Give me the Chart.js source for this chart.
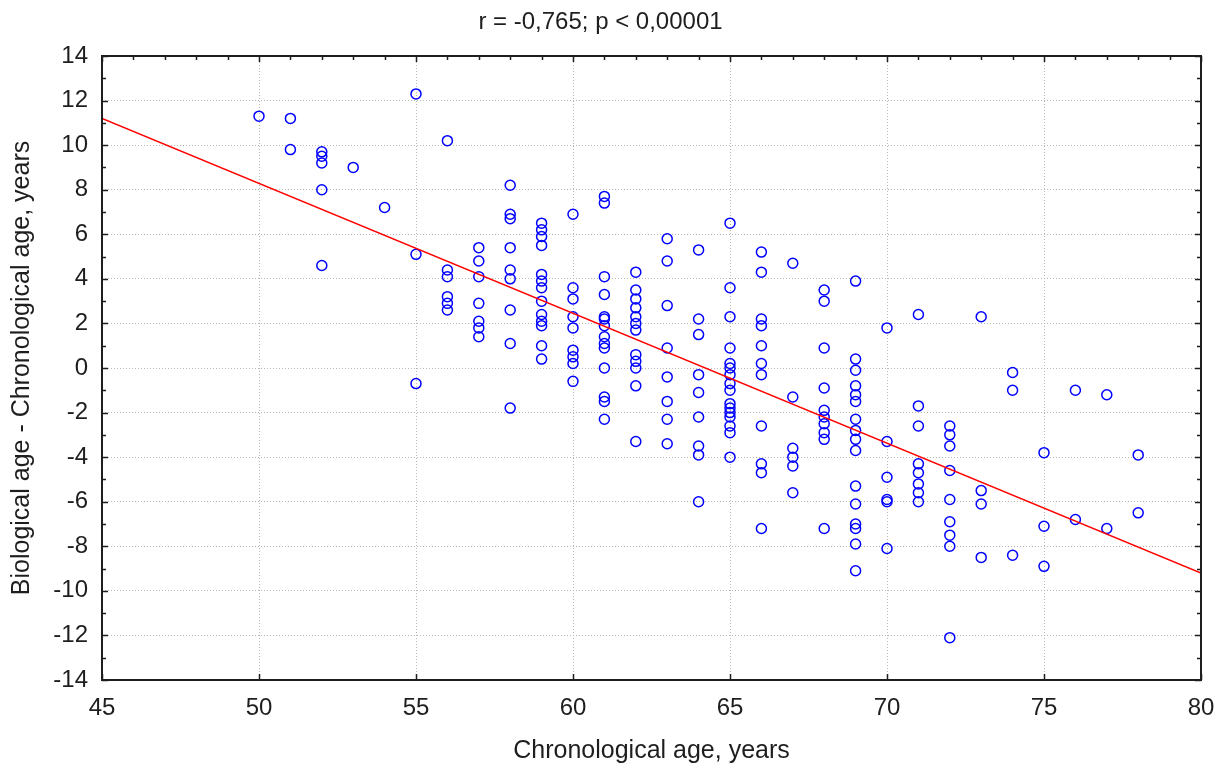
<!DOCTYPE html>
<html>
<head>
<meta charset="UTF-8">
<title>Biological age gap vs chronological age</title>
<script src="https://cdn.jsdelivr.net/npm/chart.js@4.4.1/dist/chart.umd.min.js"></script>
<style>
body {
  margin: 0;
  background: #fff;
}
#wrap {
  width: 1230px;
  height: 769px;
}
</style>
</head>
<body>
<div id="wrap"><canvas id="myChart" width="1230" height="769"></canvas></div>
<script>
// chronological ages (x columns) and the age gaps
var ages = [50, 51, 52, 53, 54, 55, 56, 57, 58, 59, 60, 61, 62, 63, 64,
            65, 66, 67, 68, 69, 70, 71, 72, 73, 74, 75, 76, 77, 78];
var gaps = [
  [11.3],
  [11.2, 9.8],
  [9.7, 9.5, 9.2, 8.0, 4.6],
  [9.0],
  [7.2],
  [12.3, 5.1, -0.7],
  [10.2, 4.4, 4.1, 3.2, 2.9, 2.6],
  [5.4, 4.8, 4.1, 2.9, 2.1, 1.8, 1.4],
  [8.2, 6.9, 6.7, 5.4, 4.4, 4.0, 2.6, 1.1, -1.8],
  [6.5, 6.2, 5.9, 5.5, 4.2, 3.9, 3.6, 3.0, 2.4, 2.1, 1.9, 1.0, 0.4],
  [6.9, 3.6, 3.1, 2.3, 1.8, 0.8, 0.5, 0.2, -0.6],
  [7.7, 7.4, 4.1, 3.3, 2.3, 2.2, 1.9, 1.4, 1.1, 0.9, 0.0, -1.3, -1.5, -2.3],
  [4.3, 3.5, 3.1, 2.7, 2.3, 2.0, 1.7, 0.6, 0.3, 0.0, -0.8, -3.3],
  [5.8, 4.8, 2.8, 0.9, -0.4, -1.5, -2.3, -3.4],
  [5.3, 2.2, 1.5, -0.3, -1.1, -2.2, -3.5, -3.9, -6.0],
  [6.5, 3.6, 2.3, 0.9, 0.2, 0.0, -0.3, -0.7, -1.0, -1.6, -1.8, -2.0, -2.2, -2.6, -2.9, -4.0],
  [5.2, 4.3, 2.2, 1.9, 1.0, 0.2, -0.3, -2.6, -4.3, -4.7, -7.2],
  [4.7, -1.3, -3.6, -4.0, -4.4, -5.6],
  [3.5, 3.0, 0.9, -0.9, -1.9, -2.2, -2.5, -2.9, -3.2, -7.2],
  [3.9, 0.4, -0.1, -0.8, -1.2, -1.5, -2.3, -2.8, -3.2, -3.7, -5.3, -6.1, -7.0, -7.2, -7.9, -9.1],
  [1.8, -3.3, -4.9, -5.9, -6.0, -8.1],
  [2.4, -1.7, -2.6, -4.3, -4.7, -5.2, -5.6, -6.0],
  [-2.6, -3.0, -3.5, -4.6, -5.9, -6.9, -7.5, -8.0, -12.1],
  [2.3, -5.5, -6.1, -8.5],
  [-0.2, -1.0, -8.4],
  [-3.8, -7.1, -8.9],
  [-1.0, -6.8],
  [-1.2, -7.2],
  [-3.9, -6.5]
];
// regression line end points
var fitX = [45, 80];
var fitY = [11.2, -9.2];

var titleText = "r = -0,765; p < 0,00001";
var xTitle = "Chronological age, years";
var yTitle = "Biological age - Chronological age, years";

var points = [];
for (var i = 0; i < ages.length; i++) {
    for (var j = 0; j < gaps[i].length; j++) {
        points.push({x: ages[i], y: gaps[i][j]});
    }
}
var fitLine = fitX.map(function(v, k) { return {x: v, y: fitY[k]}; });

var FONT = "'Liberation Sans', Arial, sans-serif";
var INK = "#1e1e1e";

// black frame plus the small inward tick marks
var framePlugin = {
    id: 'frame',
    afterDraw: function(chart) {
        var ctx = chart.ctx;
        var a = chart.chartArea;
        var xs = chart.scales.x, ys = chart.scales.y;
        ctx.save();
        ctx.strokeStyle = INK;
        ctx.lineWidth = 1.5;
        ctx.beginPath();
        var v, p, len;
        for (v = 45; v <= 80; v++) {
            p = Math.round(xs.getPixelForValue(v)) + 0.5;
            len = (v % 5 === 0) ? 6 : 4;
            ctx.moveTo(p, a.top); ctx.lineTo(p, a.top + len);
            if (v % 5 === 0) { ctx.moveTo(p, a.bottom); ctx.lineTo(p, a.bottom - 6); }
        }
        for (v = -14; v <= 14; v++) {
            p = Math.round(ys.getPixelForValue(v)) + 0.5;
            len = (v % 2 === 0) ? 6 : 4;
            ctx.moveTo(a.left, p); ctx.lineTo(a.left + len, p);
            ctx.moveTo(a.right, p); ctx.lineTo(a.right - len, p);
        }
        ctx.stroke();
        ctx.lineWidth = 2;
        ctx.strokeRect(a.left, a.top, a.right - a.left, a.bottom - a.top);
        ctx.restore();
    }
};

new Chart(document.getElementById("myChart"), {
    type: "scatter",
    data: {
        datasets: [
            {
                type: "line",
                label: "fit",
                data: fitLine,
                borderColor: "#ff0000",
                borderWidth: 1.5,
                pointRadius: 0,
                fill: false,
                order: 0
            },
            {
                label: "patients",
                data: points,
                pointStyle: "circle",
                pointRadius: 5,
                pointBorderWidth: 1.5,
                borderColor: "#0000ff",
                backgroundColor: "rgba(0,0,0,0)",
                order: 1
            }
        ]
    },
    plugins: [framePlugin],
    options: {
        responsive: false,
        animation: false,
        layout: {padding: {left: 0, right: 29, top: 0, bottom: 0}},
        plugins: {
            legend: {display: false},
            tooltip: {enabled: false},
            title: {
                display: true,
                text: titleText,
                color: INK,
                font: {family: FONT, size: 24, weight: "normal", lineHeight: 1.2},
                padding: {top: 8, bottom: 19.2}
            }
        },
        scales: {
            x: {
                type: "linear",
                min: 45,
                max: 80,
                afterFit: function(s) { s.height = 89; },
                ticks: {stepSize: 5, color: INK, padding: 14,
                        font: {family: FONT, size: 24}},
                grid: {color: "#b8b8b8", lineWidth: 1, drawTicks: false},
                border: {display: false, dash: [1, 2]},
                title: {display: true, text: xTitle, color: INK,
                        font: {family: FONT, size: 25, lineHeight: 1.2},
                        padding: {top: 0, bottom: 3}}
            },
            y: {
                type: "linear",
                min: -14,
                max: 14,
                afterFit: function(s) { s.width = 102; },
                ticks: {stepSize: 2, color: INK, padding: 14,
                        font: {family: FONT, size: 24}},
                grid: {color: "#b8b8b8", lineWidth: 1, drawTicks: false},
                border: {display: false, dash: [1, 2]},
                title: {display: true, text: yTitle, color: INK,
                        font: {family: FONT, size: 25, lineHeight: 1.2},
                        padding: {top: 7, bottom: 0}}
            }
        }
    }
});
</script>
</body>
</html>
